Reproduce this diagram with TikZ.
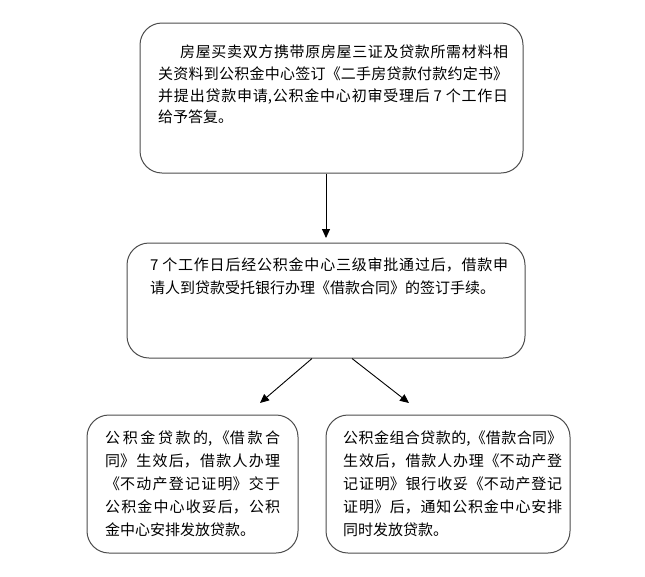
\documentclass[tikz,border=0pt]{standalone}
\usepackage{fontspec}
\setmainfont{Noto Sans CJK SC}
\usetikzlibrary{arrows.meta}
\XeTeXlinebreaklocale "zh"
\XeTeXlinebreakskip=0pt plus 3pt
\begin{document}
\begin{tikzpicture}[x=1pt,y=-1pt,
  box/.style={draw=black!70, line width=1pt, rounded corners=22pt, inner sep=0pt},
  txt/.style={anchor=north west, inner sep=0pt, align=justify},
  arr/.style={-{Triangle[length=9pt,width=8pt]}, line width=0.9pt, draw=black}]
\useasboundingbox (0,0) rectangle (645,576);
% boxes
\node[box, minimum width=383pt, minimum height=150pt] (b1) at (331.5,98) {};
\node[box, minimum width=398pt, minimum height=115pt] (b2) at (326,300.5) {};
\node[box, minimum width=211pt, minimum height=138pt] (b3) at (192.5,484) {};
\node[box, minimum width=244pt, minimum height=138pt] (b4) at (448,484) {};
% texts
\node[txt, text width=350pt, font=\fontsize{15}{21.7}\selectfont] (t1) at (158,45)
 {\noindent\hspace*{22pt}房屋买卖双方携带原房屋三证及贷款所需材料相\linebreak
  关资料到公积金中心签订《二手房贷款付款约定书》\linebreak
  并提出贷款申请,公积金中心初审受理后 7 个工作日\linebreak
  给予答复。};
\node[txt, text width=358pt, font=\fontsize{15}{23}\selectfont] (t2) at (150,258)
 {\noindent 7 个工作日后经公积金中心三级审批通过后，借款申\linebreak
  请人到贷款受托银行办理《借款合同》的签订手续。};
\node[txt, text width=175pt, font=\fontsize{15}{23}\selectfont] (t3) at (105,431)
 {\noindent 公积金贷款的,《借款合\linebreak
  同》生效后，借款人办理\linebreak
  《不动产登记证明》交于\linebreak
  公积金中心收妥后，公积\linebreak
  金中心安排发放贷款。};
\node[txt, text width=219pt, font=\fontsize{15}{23}\selectfont] (t4) at (343,431)
 {\noindent 公积金组合贷款的,《借款合同》\linebreak
  生效后，借款人办理《不动产登\linebreak
  记证明》银行收妥《不动产登记\linebreak
  证明》后，通知公积金中心安排\linebreak
  同时发放贷款。};
% arrows
\coordinate (a1) at (326,238);
\coordinate (a2) at (260,403);
\coordinate (a3) at (409,403);
\draw[arr] (b1.south -| a1) -- (a1);
\draw[arr] ([xshift=-14pt]b2.south) -- (a2);
\draw[arr] ([xshift=26pt]b2.south) -- (a3);
\end{tikzpicture}
\end{document}
